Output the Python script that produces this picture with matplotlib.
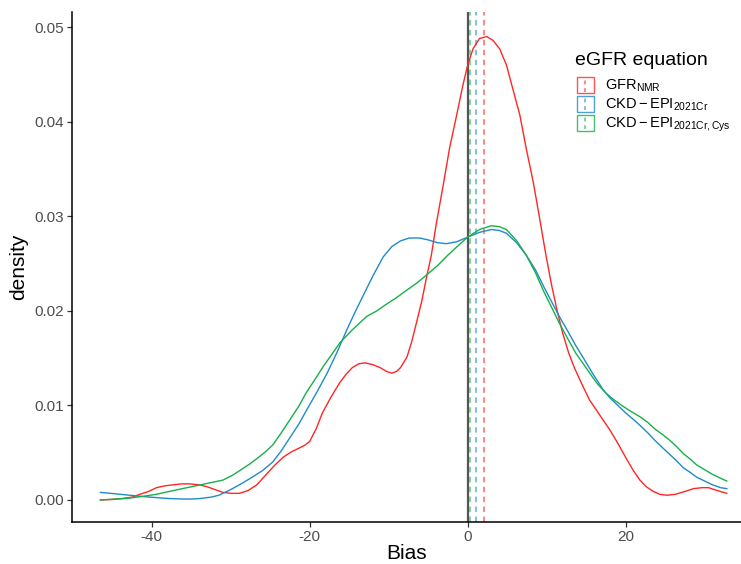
import matplotlib
matplotlib.use("Agg")
import matplotlib.pyplot as plt
from matplotlib.legend_handler import HandlerBase
from matplotlib.patches import Rectangle
from matplotlib.lines import Line2D

plt.rcParams['font.family'] = ['Liberation Sans', 'DejaVu Sans']
plt.rcParams['mathtext.fontset'] = 'custom'
plt.rcParams['mathtext.rm'] = 'Liberation Sans'
plt.rcParams['mathtext.it'] = 'Liberation Sans:italic'
plt.rcParams['mathtext.bf'] = 'Liberation Sans:bold'

# ---------------- data ----------------
legend_title = "eGFR equation"
labels = [r"$\mathrm{GFR}_{\mathrm{NMR}}$",
          r"$\mathrm{CKD-EPI}_{\mathrm{2021Cr}}$",
          r"$\mathrm{CKD-EPI}_{\mathrm{2021Cr,Cys}}$"]
colors = ["#FF2626", "#1F8BCB", "#17B04A"]

nmr_x = [-46.5, -45.0, -43.7, -42.5, -41.5, -40.4, -39.4, -38.3, -37.3, -36.2,
         -35.2, -34.0, -33.0, -32.0, -31.0, -29.9, -28.9, -27.8, -26.7, -25.4,
         -24.4, -23.4, -22.3, -21.3, -20.6, -20.0, -19.2, -18.4, -17.3, -16.2,
         -15.4, -14.6, -13.8, -13.0, -12.0, -11.1, -10.3, -9.6, -9.0, -8.5,
         -7.7, -7.1, -6.5, -5.8, -5.2, -4.6, -4.0, -3.1, -2.3, -1.4,
         -0.6, 0.0, 0.67, 1.5, 2.4, 3.2, 4.05, 4.9, 5.7, 6.6,
         7.4, 8.3, 9.1, 9.9, 10.6, 11.3, 12.0, 12.8, 13.5, 14.2,
         15.4, 16.7, 18.0, 19.0, 20.0, 20.9, 21.8, 22.6, 23.5, 24.3,
         25.2, 26.3, 27.5, 28.6, 29.7, 30.5, 31.2, 32.0, 32.8]
nmr_y = [0.0000, 0.00005, 0.00015, 0.0003, 0.0006, 0.0009, 0.0013, 0.0015, 0.0016, 0.0017,
         0.0017, 0.0016, 0.0014, 0.0011, 0.0008, 0.0007, 0.0007, 0.0010, 0.0016, 0.0028,
         0.0037, 0.0045, 0.0051, 0.0055, 0.0058, 0.0062, 0.0075, 0.0092, 0.0109, 0.0124,
         0.0133, 0.0140, 0.0144, 0.0145, 0.0143, 0.0140, 0.0136, 0.0134, 0.0136, 0.0140,
         0.0151, 0.0167, 0.0187, 0.0211, 0.0236, 0.0259, 0.0291, 0.0333, 0.0372, 0.0407,
         0.0439, 0.0460, 0.0477, 0.0488, 0.0490, 0.0486, 0.0477, 0.0460, 0.0435, 0.0407,
         0.0372, 0.0336, 0.0298, 0.0259, 0.0228, 0.0201, 0.0177, 0.0155, 0.0140, 0.0127,
         0.0106, 0.0090, 0.0074, 0.0060, 0.0045, 0.0032, 0.0021, 0.0014, 0.0009, 0.0006,
         0.0005, 0.0006, 0.0009, 0.0012, 0.0013, 0.0013, 0.0011, 0.0009, 0.0007]

cr_x = [-46.5, -44.6, -42.8, -41.0, -39.4, -37.8, -36.1, -35.0, -33.9, -32.5,
        -31.5, -31.0, -30.0, -28.7, -27.3, -26.0, -24.7, -23.6, -22.5, -21.4,
        -20.4, -19.1, -17.8, -16.5, -15.3, -14.3, -13.3, -12.0, -10.7, -9.6,
        -8.5, -7.4, -6.1, -5.0, -3.8, -2.7, -1.4, 0.0, 1.5, 3.0,
        4.0, 4.9, 6.2, 7.4, 8.6, 9.6, 10.6, 11.6, 12.7, 13.7,
        14.8, 15.8, 16.5, 17.1, 18.0, 19.0, 20.0, 21.0, 21.8, 22.8,
        23.7, 24.7, 25.6, 26.5, 27.3, 28.2, 29.0, 30.0, 31.0, 32.0, 32.8]
cr_y = [0.0008, 0.00065, 0.0005, 0.00035, 0.00025, 0.00015, 0.0001, 0.0001, 0.00015, 0.0003,
        0.0005, 0.0007, 0.0011, 0.0017, 0.0024, 0.0031, 0.0040, 0.0052, 0.0066, 0.0080,
        0.0095, 0.0114, 0.0134, 0.0157, 0.0180, 0.0198, 0.0215, 0.0237, 0.0257, 0.0268,
        0.0274, 0.0277, 0.0277, 0.0275, 0.0272, 0.0271, 0.0273, 0.0278, 0.0283, 0.0286,
        0.0285, 0.0282, 0.0272, 0.0259, 0.0243, 0.0226, 0.0210, 0.0194, 0.0178, 0.0163,
        0.0148, 0.0134, 0.0125, 0.0117, 0.0108, 0.0100, 0.0092, 0.0085, 0.0079, 0.0071,
        0.0063, 0.0055, 0.0048, 0.0041, 0.0034, 0.0029, 0.0024, 0.0020, 0.0016, 0.0013, 0.0012]

crcys_x = [-46.5, -44.6, -42.8, -41.0, -39.4, -37.8, -36.1, -34.4, -32.7, -31.0,
           -29.8, -28.7, -27.6, -26.5, -25.6, -24.7, -23.6, -22.5, -21.4, -20.4,
           -19.3, -18.3, -17.2, -16.2, -15.4, -14.6, -13.7, -12.8, -11.5, -10.3,
           -9.0, -7.7, -6.5, -5.2, -3.8, -2.5, -1.2, 0.0, 1.5, 3.0,
           4.0, 4.9, 6.2, 7.4, 8.6, 9.6, 10.6, 11.6, 12.7, 13.7,
           14.8, 15.8, 16.5, 17.5, 18.5, 19.5, 20.6, 21.8, 22.8, 23.7,
           24.7, 25.6, 26.5, 27.3, 28.2, 29.0, 30.0, 31.0, 32.0, 32.8]
crcys_y = [0.0000, 0.0001, 0.0002, 0.0004, 0.0006, 0.0009, 0.0012, 0.0015, 0.0018, 0.0021,
           0.0026, 0.0032, 0.0038, 0.0045, 0.0051, 0.0058, 0.0071, 0.0085, 0.0099, 0.0114,
           0.0128, 0.0141, 0.0154, 0.0166, 0.0173, 0.0180, 0.0187, 0.0194, 0.0200, 0.0207,
           0.0214, 0.0222, 0.0229, 0.0238, 0.0248, 0.0259, 0.0269, 0.0278, 0.0286, 0.0290,
           0.0289, 0.0286, 0.0274, 0.0259, 0.0240, 0.0221, 0.0204, 0.0187, 0.0170, 0.0155,
           0.0142, 0.0130, 0.0122, 0.0113, 0.0106, 0.0100, 0.0094, 0.0088, 0.0082, 0.0075,
           0.0069, 0.0063, 0.0056, 0.0049, 0.0043, 0.0037, 0.0032, 0.0027, 0.0023, 0.0020]

means = [2.0, 1.0, 0.35]

xs = [nmr_x, cr_x, crcys_x]
ys = [nmr_y, cr_y, crcys_y]

x_ticks = [-40, -20, 0, 20]
y_ticks = [0.00, 0.01, 0.02, 0.03, 0.04, 0.05]

# ---------------- figure ----------------
W, H = 741, 564
fig = plt.figure(figsize=(W / 100, H / 100), dpi=100)
ax = fig.add_axes([72 / W, 1 - 522 / H, 1 - 72 / W, (522 - 12) / H])

ax.axvline(0, color="#555555", lw=1.6, zorder=1)
for m, c in zip(means, colors):
    ax.axvline(m, color=c, lw=1.1, alpha=0.7, linestyle=(0, (3.6, 2.9)), zorder=2)

for x, y, c in zip(xs, ys, colors):
    ax.plot(x, y, color=c, lw=1.0, zorder=3, solid_joinstyle="round")

ax.set_xlim(-50.1, 34.6)
ax.set_ylim(-0.00233, 0.0516)
ax.set_xticks(x_ticks)
ax.set_xticklabels([str(t) for t in x_ticks])
ax.set_yticks(y_ticks)
ax.set_yticklabels([f"{t:.2f}" for t in y_ticks])

for s in ["top", "right"]:
    ax.spines[s].set_visible(False)
for s in ["left", "bottom"]:
    ax.spines[s].set_linewidth(1.1)
    ax.spines[s].set_color("black")

ax.tick_params(direction="out", length=3.5, width=0.9, color="#333333",
               labelsize=11, labelcolor="#4D4D4D", pad=2.5)
ax.set_xlabel("Bias", fontsize=15, labelpad=0)
ax.set_ylabel("density", fontsize=15, labelpad=4)


class KeyHandler(HandlerBase):
    def create_artists(self, legend, orig_handle, xdescent, ydescent,
                       width, height, fontsize, trans):
        c = orig_handle.get_color()
        rect = Rectangle((-xdescent + 0.5, -ydescent), width - 1, height,
                         facecolor="white", edgecolor=c, lw=1.0, alpha=0.8,
                         transform=trans)
        ln = Line2D([width / 2 - xdescent] * 2, [-ydescent + 1, height - ydescent - 1],
                    color=c, lw=1.1, alpha=0.7, linestyle=(0, (2.5, 2.5)),
                    transform=trans)
        return [rect, ln]


fig.text(575 / W, 1 - 65 / H, legend_title, fontsize=14, va="baseline", ha="left")

handles = [Line2D([], [], color=c) for c in colors]
leg = ax.legend(handles, labels,
                handler_map={Line2D: KeyHandler()},
                loc="upper left", bbox_to_anchor=(576 / W, 1 - 77 / H),
                bbox_transform=fig.transFigure,
                frameon=False, fontsize=10.5,
                handlelength=1.3, handleheight=1.3, handletextpad=0.68,
                labelspacing=0.12, borderaxespad=0, borderpad=0)

fig.savefig("out.png", dpi=100)
